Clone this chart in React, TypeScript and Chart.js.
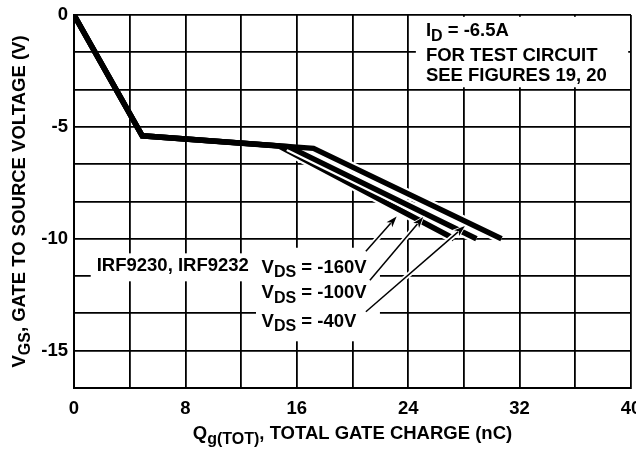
import React, { useEffect, useRef } from "react";
import { Chart, registerables } from "chart.js";

Chart.register(...registerables);

// ---- axis grid / tick values ----
const qGrid = [0, 4, 8, 12, 16, 20, 24, 28, 32, 36, 40];
const qLabels = [0, 8, 16, 24, 32, 40];
const vGrid = [0, -1.667, -3.333, -5, -6.667, -8.333, -10, -11.667, -13.333, -15, -16.667];
const vLabels = [0, -5, -10, -15];

// ---- series (Qg nC, VGS V) ----
const vds160Q = [0, 4.9, 14.7, 27.3];
const vds160V = [0, -5.4, -5.85, -10.0];
const vds100Q = [0, 4.9, 15.4, 28.9];
const vds100V = [0, -5.4, -5.88, -10.0];
const vds40Q = [0, 4.9, 17.2, 30.7];
const vds40V = [0, -5.4, -5.96, -10.0];

// ---- annotations (data units) ----
const arrowTails = [
  [20.96, -10.56],
  [21.25, -11.85],
  [20.96, -13.26],
];
const arrowHeads = [
  [23.17, -9.0],
  [25.08, -9.03],
  [28.07, -9.43],
];
const vdsLabels = ["-160V", "-100V", "-40V"];
const vdsLabelPos = [
  [13.47, -11.51],
  [13.47, -12.66],
  [13.47, -13.92],
];
const partLabel = "IRF9230, IRF9232";
const partLabelPos = [1.63, -11.46];
const noteLines = ["FOR TEST CIRCUIT", "SEE FIGURES 19, 20"];
const noteTitlePos = [25.27, -0.95];
const noteLinePos = [
  [25.27, -2.06],
  [25.27, -2.95],
];
// white masks [x1, y1, x2, y2]
const masks = [
  [24.55, -0.08, 39.8, -3.23],
  [1.2, -10.65, 13.2, -11.9],
  [13.07, -10.4, 21.97, -14.58],
];

const FONT = '"Liberation Sans", Arial, Helvetica, sans-serif';
const MAIN = 18.5;
const SUB = 16;
const SUB_OFF = 4.5;

type Part = { t: string; sub?: boolean };

function richWidth(ctx: CanvasRenderingContext2D, parts: Part[]) {
  let w = 0;
  for (const p of parts) {
    ctx.font = `bold ${p.sub ? SUB : MAIN}px ${FONT}`;
    w += ctx.measureText(p.t).width;
  }
  return w;
}

function drawRich(ctx: CanvasRenderingContext2D, x: number, y: number, parts: Part[]) {
  let cx = x;
  ctx.textAlign = "left";
  ctx.textBaseline = "alphabetic";
  for (const p of parts) {
    ctx.font = `bold ${p.sub ? SUB : MAIN}px ${FONT}`;
    ctx.fillText(p.t, cx, p.sub ? y + SUB_OFF : y);
    cx += ctx.measureText(p.t).width;
  }
}

function drawArrow(
  ctx: CanvasRenderingContext2D,
  x1: number,
  y1: number,
  x2: number,
  y2: number,
  color: string,
  lw: number,
  grow: number
) {
  const ang = Math.atan2(y2 - y1, x2 - x1);
  const len = 11 + grow;
  const hw = 3.8 + grow;
  const bx = x2 - Math.cos(ang) * len;
  const by = y2 - Math.sin(ang) * len;
  ctx.strokeStyle = color;
  ctx.fillStyle = color;
  ctx.lineWidth = lw;
  ctx.lineCap = "butt";
  ctx.beginPath();
  ctx.moveTo(x1, y1);
  ctx.lineTo(bx + Math.cos(ang) * 2, by + Math.sin(ang) * 2);
  ctx.stroke();
  ctx.beginPath();
  ctx.moveTo(x2 + Math.cos(ang) * grow, y2 + Math.sin(ang) * grow);
  ctx.lineTo(bx - Math.sin(ang) * hw, by + Math.cos(ang) * hw);
  ctx.lineTo(bx + Math.cos(ang) * 3, by + Math.sin(ang) * 3);
  ctx.lineTo(bx + Math.sin(ang) * hw, by - Math.cos(ang) * hw);
  ctx.closePath();
  ctx.fill();
}

const annotationPlugin = {
  id: "annotations",
  afterDatasetsDraw(chart: any) {
    const ctx: CanvasRenderingContext2D = chart.ctx;
    const xs = chart.scales.x;
    const ys = chart.scales.y;
    const px = (v: number) => xs.getPixelForValue(v);
    const py = (v: number) => ys.getPixelForValue(v);
    ctx.save();
    // masks
    ctx.fillStyle = "#fff";
    for (const m of masks) {
      const x1 = px(m[0]);
      const y1 = py(m[1]);
      const x2 = px(m[2]);
      const y2 = py(m[3]);
      ctx.fillRect(x1, y1, x2 - x1, y2 - y1);
    }
    // arrows with halo
    for (let i = 0; i < arrowTails.length; i++) {
      const t = arrowTails[i];
      const h = arrowHeads[i];
      drawArrow(ctx, px(t[0]), py(t[1]), px(h[0]), py(h[1]), "#fff", 5, 1.8);
    }
    for (let i = 0; i < arrowTails.length; i++) {
      const t = arrowTails[i];
      const h = arrowHeads[i];
      drawArrow(ctx, px(t[0]), py(t[1]), px(h[0]), py(h[1]), "#000", 1.5, 0);
    }
    // texts
    ctx.fillStyle = "#000";
    drawRich(ctx, px(partLabelPos[0]), py(partLabelPos[1]), [{ t: partLabel }]);
    for (let i = 0; i < vdsLabels.length; i++) {
      const p = vdsLabelPos[i];
      drawRich(ctx, px(p[0]), py(p[1]), [
        { t: "V" },
        { t: "DS", sub: true },
        { t: " = " + vdsLabels[i] },
      ]);
    }
    drawRich(ctx, px(noteTitlePos[0]), py(noteTitlePos[1]), [
      { t: "I" },
      { t: "D", sub: true },
      { t: " = -6.5A" },
    ]);
    for (let i = 0; i < noteLines.length; i++) {
      const p = noteLinePos[i];
      drawRich(ctx, px(p[0]), py(p[1]), [{ t: noteLines[i] }]);
    }
    ctx.restore();
  },
  afterDraw(chart: any) {
    const ctx: CanvasRenderingContext2D = chart.ctx;
    const area = chart.chartArea;
    ctx.save();
    ctx.fillStyle = "#000";
    // x title
    const xParts: Part[] = [
      { t: "Q" },
      { t: "g(TOT)", sub: true },
      { t: ", TOTAL GATE CHARGE (nC)" },
    ];
    const xw = richWidth(ctx, xParts);
    drawRich(ctx, (area.left + area.right) / 2 - xw / 2, 439, xParts);
    // y title
    const yParts: Part[] = [
      { t: "V" },
      { t: "GS", sub: true },
      { t: ", GATE TO SOURCE VOLTAGE (V)" },
    ];
    const yw = richWidth(ctx, yParts);
    ctx.translate(25, (area.top + area.bottom) / 2);
    ctx.rotate(-Math.PI / 2);
    drawRich(ctx, -yw / 2, 0, yParts);
    ctx.restore();
  },
};

function toPts(qs: number[], vs: number[]) {
  return qs.map((q, i) => ({ x: q, y: vs[i] }));
}

export default function App() {
  const ref = useRef<HTMLCanvasElement | null>(null);

  useEffect(() => {
    document.body.style.margin = "0";
    const canvas = ref.current!;
    const tickFont = { family: FONT, size: MAIN, weight: "bold" as const };
    const series = [
      { q: vds160Q, v: vds160V },
      { q: vds100Q, v: vds100V },
      { q: vds40Q, v: vds40V },
    ];
    const datasets: any[] = [];
    series.forEach((s, i) => {
      const base = (3 - i) * 2;
      datasets.push({
        data: toPts(s.q.slice(2), s.v.slice(2)),
        borderColor: "#fff",
        borderWidth: 10,
        pointRadius: 0,
        order: base,
        borderJoinStyle: "miter",
      });
      datasets.push({
        data: toPts(s.q, s.v),
        borderColor: "#000",
        borderWidth: 5.5,
        pointRadius: 0,
        order: base - 1,
        borderJoinStyle: "miter",
      });
    });

    const chart = new Chart(canvas, {
      type: "line",
      data: { datasets },
      options: {
        animation: false,
        responsive: false,
        devicePixelRatio: 1,
        layout: { padding: { left: 0, right: 5, top: 15, bottom: 0 } },
        plugins: { legend: { display: false }, tooltip: { enabled: false } },
        elements: { line: { tension: 0 } },
        scales: {
          x: {
            type: "linear",
            min: 0,
            max: 40,
            afterBuildTicks: (s: any) => {
              s.ticks = qGrid.map((v) => ({ value: v }));
            },
            afterFit: (s: any) => {
              s.height = 65;
              s.paddingLeft = 0;
              s.paddingRight = 0;
            },
            grid: { color: "#000", lineWidth: 1.8, drawTicks: false },
            border: { color: "#000", width: 2 },
            ticks: {
              color: "#000",
              font: tickFont,
              padding: 10,
              maxRotation: 0,
              autoSkip: false,
              callback: (v: any) => (qLabels.includes(Number(v)) ? String(v) : ""),
            },
          },
          y: {
            type: "linear",
            min: -16.667,
            max: 0,
            afterBuildTicks: (s: any) => {
              s.ticks = vGrid.map((v) => ({ value: v }));
            },
            afterFit: (s: any) => {
              s.width = 74;
              s.paddingTop = 0;
              s.paddingBottom = 0;
            },
            grid: { color: "#000", lineWidth: 1.8, drawTicks: false },
            border: { color: "#000", width: 2 },
            ticks: {
              color: "#000",
              font: tickFont,
              padding: 6,
              autoSkip: false,
              callback: (v: any) => (vLabels.includes(Number(v)) ? String(v) : ""),
            },
          },
        },
      },
      plugins: [annotationPlugin],
    });
    return () => chart.destroy();
  }, []);

  return <canvas ref={ref} width={636} height={453} style={{ display: "block" }} />;
}
